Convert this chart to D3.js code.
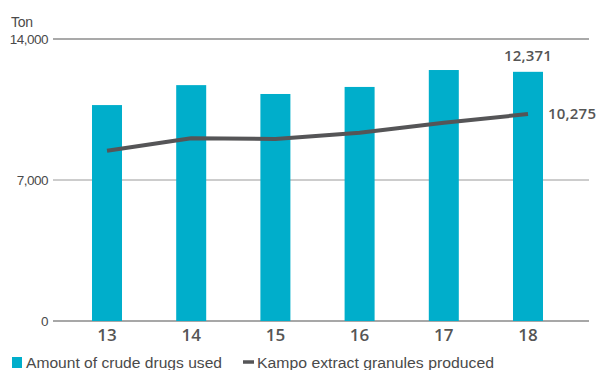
<!DOCTYPE html>
<html>
<head>
<meta charset="utf-8">
<script src="https://cdn.jsdelivr.net/npm/d3@7"></script>
<style>
  html, body { margin: 0; padding: 0; background: #fff; }
  svg { display: block; }
</style>
</head>
<body>
<svg id="chart" width="600" height="370"></svg>
<script>
// Fiscal years shown on the x axis
const years = ["13", "14", "15", "16", "17", "18"];
// Amount of crude drugs used (tons) — bars
const crudeDrugs = [10720, 11710, 11270, 11620, 12460, 12371];
// Kampo extract granules produced (tons) — line
const granules = [8450, 9070, 9040, 9350, 9840, 10275];
// Y axis ticks
const yTicks = [0, 7000, 14000];

const svg = d3.select("#chart");
const barColor = "#00aecb";
const lineColor = "#555557";
const textColor = "#4a4a4a";

const x = d3.scalePoint().domain(years).range([107, 528]);
const y = d3.scaleLinear().domain([0, 14000]).range([321, 39]);
const barW = 30;

// Grid lines
const gridColor = { 0: "#8a8a8a", 7000: "#9a9a9a", 14000: "#555" };
const gridWidth = { 0: 1.6, 7000: 1, 14000: 1.2 };
svg.append("g").selectAll("line").data(yTicks).join("line")
  .attr("x1", 53).attr("x2", 589)
  .attr("y1", d => y(d)).attr("y2", d => y(d))
  .attr("stroke", d => gridColor[d])
  .attr("stroke-width", d => gridWidth[d]);

// Y tick labels
svg.append("g").selectAll("text").data(yTicks).join("text")
  .attr("x", 48).attr("y", d => y(d))
  .attr("dy", "0.36em")
  .attr("text-anchor", "end")
  .attr("font-family", "Liberation Sans, Arial, sans-serif")
  .attr("font-size", 13.5)
  .attr("letter-spacing", -0.5)
  .attr("fill", textColor)
  .text(d => d3.format(",")(d));

// Unit label
svg.append("text")
  .attr("x", 11).attr("y", 27)
  .attr("font-family", "Liberation Sans, Arial, sans-serif")
  .attr("font-size", 14)
  .attr("letter-spacing", -0.3)
  .attr("fill", textColor)
  .text("Ton");

// Bars
svg.append("g").selectAll("rect").data(crudeDrugs).join("rect")
  .attr("x", (d, i) => x(years[i]) - barW / 2)
  .attr("width", barW)
  .attr("y", d => y(d))
  .attr("height", d => y(0) - y(d))
  .attr("fill", barColor);

// Line
const line = d3.line()
  .x((d, i) => x(years[i]))
  .y(d => y(d));
svg.append("path")
  .datum(granules)
  .attr("d", line)
  .attr("fill", "none")
  .attr("stroke", lineColor)
  .attr("stroke-width", 4)
  .attr("stroke-linejoin", "round");

// X tick labels
svg.append("g").selectAll("text").data(years).join("text")
  .attr("x", d => x(d)).attr("y", 341)
  .attr("text-anchor", "middle")
  .attr("font-family", "Open Sans, Lato, sans-serif")
  .attr("font-weight", 600)
  .attr("font-size", 17)
  .attr("fill", "#555")
  .text(d => d);

// Value labels for the final year
const last = years.length - 1;
svg.append("text")
  .attr("x", x(years[last])).attr("y", y(crudeDrugs[last]) - 11)
  .attr("text-anchor", "middle")
  .attr("font-family", "Open Sans, Lato, sans-serif")
  .attr("font-weight", 600)
  .attr("font-size", 15)
  .attr("letter-spacing", 0.2)
  .attr("fill", "#555")
  .text(d3.format(",")(crudeDrugs[last]));
svg.append("text")
  .attr("x", 548).attr("y", y(granules[last]))
  .attr("dy", "0.36em")
  .attr("font-family", "Open Sans, Lato, sans-serif")
  .attr("font-weight", 600)
  .attr("font-size", 15)
  .attr("letter-spacing", 0.2)
  .attr("fill", "#555")
  .text(d3.format(",")(granules[last]));

// Legend
const legend = svg.append("g").attr("font-family", "Liberation Sans, Arial, sans-serif")
  .attr("font-size", 14).attr("fill", textColor);
legend.append("rect").attr("x", 12).attr("y", 357).attr("width", 10).attr("height", 11)
  .attr("fill", barColor);
legend.append("text").attr("x", 26).attr("y", 368)
  .attr("textLength", 196).attr("lengthAdjust", "spacingAndGlyphs")
  .text("Amount of crude drugs used");
legend.append("line").attr("x1", 243).attr("x2", 254).attr("y1", 362).attr("y2", 362)
  .attr("stroke", lineColor).attr("stroke-width", 3.5);
legend.append("text").attr("x", 257).attr("y", 368)
  .attr("textLength", 237).attr("lengthAdjust", "spacingAndGlyphs")
  .text("Kampo extract granules produced");
</script>
</body>
</html>
